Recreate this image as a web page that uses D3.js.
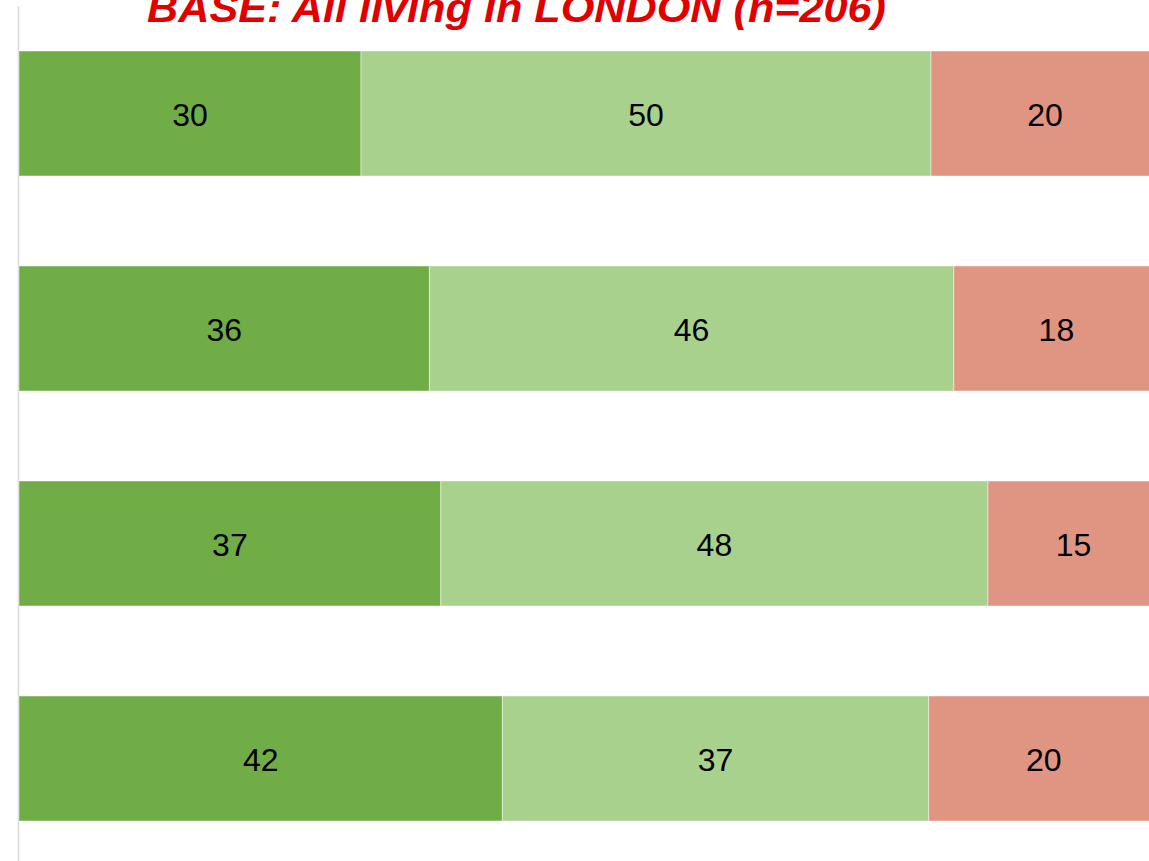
<!DOCTYPE html>
<html>

<head>
  <title>Stacked bars</title>
  <meta charset="utf-8">
  <script src="https://d3js.org/d3.v7.min.js"></script>
  <style>
    body { margin: 0; background: #fff; }
    svg { display: block; }
    .title {
      font-family: "Liberation Sans", Arial, sans-serif;
      font-weight: bold;
      font-style: italic;
      fill: #e00000;
    }
    .lbl {
      font-family: "Liberation Sans", Arial, sans-serif;
      fill: #000;
    }
  </style>
</head>

<body>
  <svg width="1149" height="861"></svg>
  <script>
    // values (row 4 slightly off round numbers to fit the drawn widths)
    var categories = ["Row 1", "Row 2", "Row 3", "Row 4"];
    var seriesKeys = ["s1", "s2", "s3"];
    var s1 = [30, 36, 37, 42.4];
    var s2 = [50, 46, 48, 37.4];
    var s3 = [20, 18, 15, 20.2];
    var colors = ["#70ad47", "#a9d18e", "#df9581"];
    var titleText = "BASE:  All living in LONDON (n=206)";

    var rows = categories.map(function (c, i) {
      return { cat: c, s1: s1[i], s2: s2[i], s3: s3[i] };
    });

    var svg = d3.select("svg");

    var x = d3.scaleLinear().domain([0, 100]).range([19, 1159]);
    var y = d3.scaleBand().domain(categories).range([51, 821])
      .paddingInner(90 / 215).paddingOuter(0);
    var color = d3.scaleOrdinal().domain(seriesKeys).range(colors);

    var stacked = d3.stack().keys(seriesKeys)(rows);

    // left axis line
    svg.append("line")
      .attr("x1", 18.5).attr("x2", 18.5)
      .attr("y1", 6).attr("y2", 861)
      .attr("stroke", "#d9d9d9")
      .attr("stroke-width", 1.5);

    var layer = svg.selectAll("g.layer")
      .data(stacked)
      .enter().append("g")
      .attr("class", "layer")
      .attr("fill", function (d) { return color(d.key); });

    layer.selectAll("rect")
      .data(function (d) { return d; })
      .enter().append("rect")
      .attr("x", function (d) { return x(d[0]); })
      .attr("y", function (d) { return y(d.data.cat); })
      .attr("width", function (d) { return x(d[1]) - x(d[0]); })
      .attr("height", y.bandwidth())
      .attr("stroke", "rgba(255,255,255,0.45)")
      .attr("stroke-width", 1);

    layer.selectAll("text")
      .data(function (d) { return d; })
      .enter().append("text")
      .attr("class", "lbl")
      .attr("x", function (d) { return (x(d[0]) + x(d[1])) / 2; })
      .attr("y", function (d) { return y(d.data.cat) + y.bandwidth() / 2 + 12; })
      .attr("text-anchor", "middle")
      .style("font-size", "32px")
      .text(function (d) { return Math.round(d[1] - d[0]); });

    svg.append("text")
      .attr("class", "title")
      .attr("x", 147)
      .attr("y", 22)
      .attr("textLength", 739)
      .attr("lengthAdjust", "spacingAndGlyphs")
      .style("font-size", "40px")
      .text(titleText);
  </script>

</body>

</html>
